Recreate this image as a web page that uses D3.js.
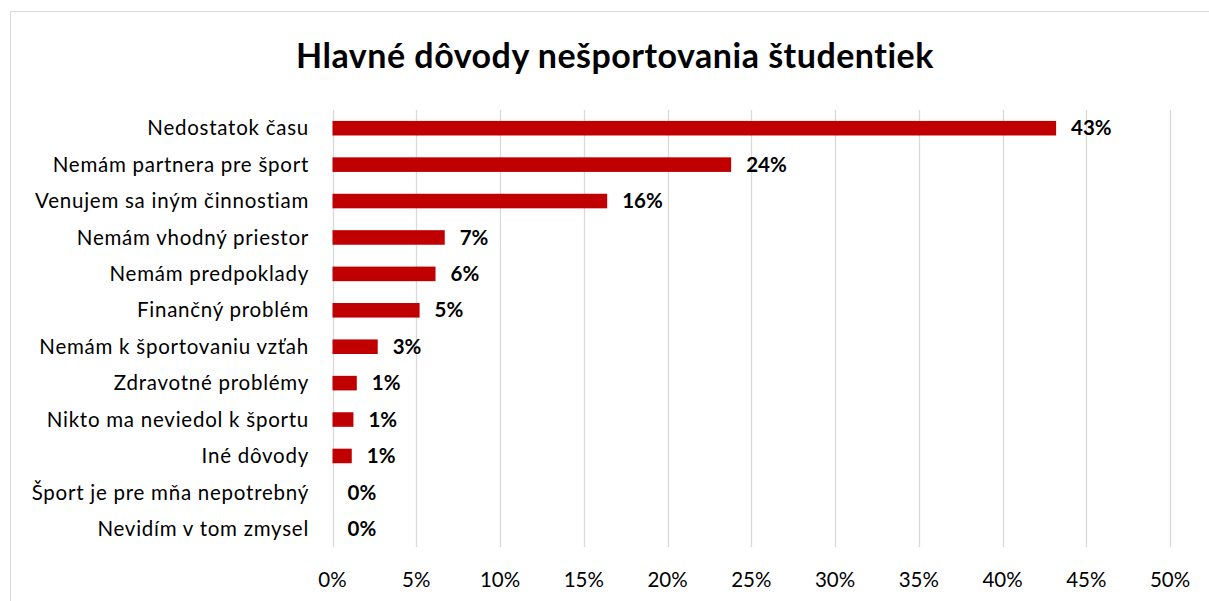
<!DOCTYPE html>
<html>
<head>
<meta charset="utf-8">
<script src="https://cdn.jsdelivr.net/npm/d3@7"></script>
<style>
  body { margin: 0; background: #fff; }
  text { font-family: Lato, "Open Sans", sans-serif; fill: #000; }
</style>
</head>
<body>
<div id="chart"></div>
<script>
// data
const categories = [
    "Nedostatok času",
    "Nemám partnera pre šport",
    "Venujem sa iným činnostiam",
    "Nemám vhodný priestor",
    "Nemám predpoklady",
    "Finančný problém",
    "Nemám k športovaniu vzťah",
    "Zdravotné problémy",
    "Nikto ma neviedol k športu",
    "Iné dôvody",
    "Šport je pre mňa nepotrebný",
    "Nevidím v tom zmysel"
];
const values = [0.432, 0.238, 0.164, 0.067, 0.0615, 0.052, 0.027, 0.0145, 0.0125, 0.0115, 0, 0];
const ticks = [0, 0.05, 0.1, 0.15, 0.2, 0.25, 0.3, 0.35, 0.4, 0.45, 0.5];
const title = "Hlavné dôvody nešportovania študentiek";

let width = 1209, height = 601;
let svg = d3.select("#chart").append("svg")
    .attr("width", width)
    .attr("height", height);

// chart frame
svg.append("rect")
    .attr("x", 10.5).attr("y", 11.5)
    .attr("width", width + 20).attr("height", height + 20)
    .attr("fill", "none")
    .attr("stroke", "#d9d9d9");

let x = d3.scaleLinear().domain([0, 0.5]).range([332.5, 1170]);
let y = d3.scaleBand().domain(categories).range([110, 547]).paddingInner(0.6).paddingOuter(0.3);

svg.append("text")
    .attr("x", 615).attr("y", 68)
    .attr("text-anchor", "middle")
    .attr("font-size", "34px")
    .attr("font-weight", "bold")
    .attr("letter-spacing", "0.5px")
    .text(title);

// gridlines
svg.append("g").selectAll("line")
    .data(ticks)
    .enter().append("line")
    .attr("x1", d => Math.round(x(d)) + 0.5)
    .attr("x2", d => Math.round(x(d)) + 0.5)
    .attr("y1", 110).attr("y2", 547)
    .attr("stroke", "#d9d9d9")
    .attr("stroke-width", 1.3);

// x tick labels
svg.append("g").selectAll("text")
    .data(ticks)
    .enter().append("text")
    .attr("x", d => x(d))
    .attr("y", 587)
    .attr("text-anchor", "middle")
    .attr("font-size", "20.5px")
    .text(d3.format(".0%"));

// category labels
svg.append("g").selectAll("text")
    .data(categories)
    .enter().append("text")
    .attr("x", 309)
    .attr("y", d => y(d) + y.bandwidth() / 2)
    .attr("dy", "0.35em")
    .attr("text-anchor", "end")
    .attr("font-size", "20.5px")
    .attr("letter-spacing", "0.75px")
    .text(d => d);

// bars
svg.append("g").selectAll("rect")
    .data(values)
    .enter().append("rect")
    .attr("x", x(0))
    .attr("y", (d, i) => y(categories[i]))
    .attr("width", d => x(d) - x(0))
    .attr("height", y.bandwidth())
    .attr("fill", "#c00000");

// value labels
svg.append("g").selectAll("text")
    .data(values)
    .enter().append("text")
    .attr("x", d => x(d) + 15)
    .attr("y", (d, i) => y(categories[i]) + y.bandwidth() / 2)
    .attr("dy", "0.35em")
    .attr("font-size", "20.5px")
    .attr("font-weight", "bold")
    .text(d3.format(".0%"));
</script>
</body>
</html>
